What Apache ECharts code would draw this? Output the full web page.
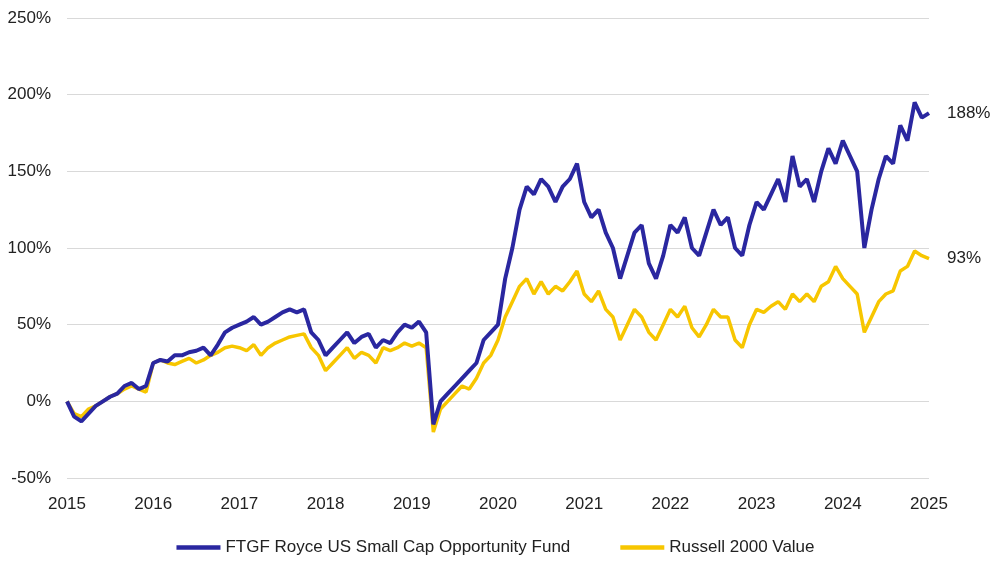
<!DOCTYPE html>
<html>
<head>
<meta charset="utf-8">
<script src="https://cdn.jsdelivr.net/npm/echarts@6/dist/echarts.min.js"></script>
<style>html,body{margin:0;padding:0;background:#fff}#chart{width:991px;height:575px}</style>
</head>
<body>
<div id="chart"></div>
<script>
// monthly returns (%), Jan 2015 .. Jan 2025
var startYear = 2015;
var fundName = 'FTGF Royce US Small Cap Opportunity Fund';
var benchName = 'Russell 2000 Value';
var fundValues = [
    0, -10, -13, -8, -3, 0, 3, 5, 10, 12, 8, 10,
    25, 27, 26, 30, 30, 32, 33, 35, 30, 37, 45, 48,
    50, 52, 55, 50, 52, 55, 58, 60, 58, 60, 45, 40,
    30, 35, 40, 45, 38, 42, 44, 35, 40, 38, 45, 50,
    48, 52, 45, -15, 0, 5, 10, 15, 20, 25, 40, 45,
    50, 80, 100, 125, 140, 135, 145, 140, 130, 140, 145, 155,
    130, 120, 125, 110, 100, 80, 95, 110, 115, 90, 80, 95,
    115, 110, 120, 100, 95, 110, 125, 115, 120, 100, 95, 115,
    130, 125, 135, 145, 130, 160, 140, 145, 130, 150, 165, 155,
    170, 160, 150, 100, 125, 145, 160, 155, 180, 170, 195, 185,
    188
];
var benchValues = [
    0, -8, -10, -5, -3, 0, 3, 5, 8, 10, 8, 6,
    25, 27, 25, 24, 26, 28, 25, 27, 30, 32, 35, 36,
    35, 33, 37, 30, 35, 38, 40, 42, 43, 44, 35, 30,
    20, 25, 30, 35, 28, 32, 30, 25, 35, 33, 35, 38,
    36, 38, 35, -20, -5, 0, 5, 10, 8, 15, 25, 30,
    40, 55, 65, 75, 80, 70, 78, 70, 75, 72, 78, 85,
    70, 65, 72, 60, 55, 40, 50, 60, 55, 45, 40, 50,
    60, 55, 62, 48, 42, 50, 60, 55, 55, 40, 35, 50,
    60, 58, 62, 65, 60, 70, 65, 70, 65, 75, 78, 88,
    80, 75, 70, 45, 55, 65, 70, 72, 85, 88, 98, 95,
    93
];
var yTicks = [-50, 0, 50, 100, 150, 200, 250];

function toPoints(arr) {
    return arr.map(function (v, i) { return [startYear + i / 12, v]; });
}

var font = 'Liberation Sans';
var chart = echarts.init(document.getElementById('chart'));
chart.setOption({
    animation: false,
    grid: { left: 67, right: 62, top: 18, bottom: 97 },
    legend: {
        bottom: 14,
        itemWidth: 44, itemGap: 50,
        icon: 'path://M0,0H40V4H0Z',
        textStyle: { fontFamily: font, fontSize: 17, color: '#222' },
        data: [fundName, benchName]
    },
    xAxis: {
        type: 'value', min: 2015, max: 2025, interval: 1,
        axisLine: { show: false }, axisTick: { show: false },
        splitLine: { show: false },
        axisLabel: { formatter: function (v) { return String(v); }, fontFamily: font, fontSize: 17, color: '#222', margin: 18 }
    },
    yAxis: {
        type: 'value', min: yTicks[0], max: yTicks[yTicks.length - 1], interval: 50,
        axisLine: { show: false }, axisTick: { show: false },
        axisLabel: { formatter: '{value}%', fontFamily: font, fontSize: 17, color: '#222', margin: 16 },
        splitLine: { lineStyle: { color: '#d9d9d9' } }
    },
    series: [
        {
            name: benchName, type: 'line', data: toPoints(benchValues), showSymbol: false,
            color: '#f7c600', lineStyle: { width: 3.5 },
            endLabel: { show: true, formatter: '93%', fontFamily: font, fontSize: 17, color: '#222', distance: 18 }
        },
        {
            name: fundName, type: 'line', data: toPoints(fundValues), showSymbol: false,
            color: '#2a27a0', lineStyle: { width: 4 },
            endLabel: { show: true, formatter: '188%', fontFamily: font, fontSize: 17, color: '#222', distance: 18 }
        }
    ]
});
</script>
</body>
</html>
